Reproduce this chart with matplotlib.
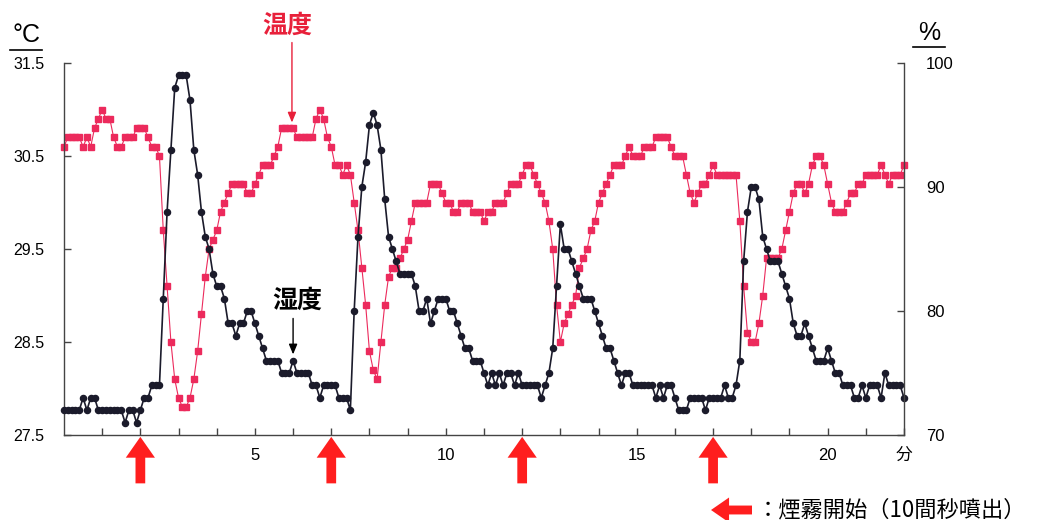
import numpy as np
import matplotlib.pyplot as plt
from matplotlib.lines import Line2D

plt.rcParams['font.family'] = ['Liberation Sans', 'Noto Sans CJK JP', 'DejaVu Sans']

# logger readings every 6 s (0.1 min) from 0 to 22 min
minutes = np.round(np.arange(221) * 0.1, 1)

temperature = [  # deg C
    30.6, 30.7, 30.7, 30.7, 30.7, 30.6, 30.7, 30.6, 30.8, 30.9,
    31.0, 30.9, 30.9, 30.7, 30.6, 30.6, 30.7, 30.7, 30.7, 30.8,
    30.8, 30.8, 30.7, 30.6, 30.6, 30.5, 29.7, 29.1, 28.5, 28.1,
    27.9, 27.8, 27.8, 27.9, 28.1, 28.4, 28.8, 29.2, 29.5, 29.6,
    29.7, 29.9, 30.0, 30.1, 30.2, 30.2, 30.2, 30.2, 30.1, 30.1,
    30.2, 30.3, 30.4, 30.4, 30.4, 30.5, 30.6, 30.8, 30.8, 30.8,
    30.8, 30.7, 30.7, 30.7, 30.7, 30.7, 30.9, 31.0, 30.9, 30.7,
    30.6, 30.4, 30.4, 30.3, 30.4, 30.3, 30.0, 29.7, 29.3, 28.9,
    28.4, 28.2, 28.1, 28.5, 28.9, 29.2, 29.3, 29.3, 29.4, 29.5,
    29.6, 29.8, 30.0, 30.0, 30.0, 30.0, 30.2, 30.2, 30.2, 30.1,
    30.0, 30.0, 29.9, 29.9, 30.0, 30.0, 30.0, 29.9, 29.9, 29.9,
    29.8, 29.9, 29.9, 30.0, 30.0, 30.0, 30.1, 30.2, 30.2, 30.2,
    30.3, 30.4, 30.4, 30.3, 30.2, 30.1, 30.0, 29.8, 29.5, 28.9,
    28.5, 28.7, 28.8, 28.9, 29.0, 29.3, 29.4, 29.5, 29.7, 29.8,
    30.0, 30.1, 30.2, 30.3, 30.4, 30.4, 30.4, 30.5, 30.6, 30.5,
    30.5, 30.5, 30.6, 30.6, 30.6, 30.7, 30.7, 30.7, 30.7, 30.6,
    30.5, 30.5, 30.5, 30.3, 30.1, 30.0, 30.1, 30.2, 30.2, 30.3,
    30.4, 30.3, 30.3, 30.3, 30.3, 30.3, 30.3, 29.8, 29.1, 28.6,
    28.5, 28.5, 28.7, 29.0, 29.4, 29.4, 29.4, 29.4, 29.5, 29.7,
    29.9, 30.1, 30.2, 30.2, 30.1, 30.2, 30.4, 30.5, 30.5, 30.4,
    30.2, 30.0, 29.9, 29.9, 29.9, 30.0, 30.1, 30.1, 30.2, 30.2,
    30.3, 30.3, 30.3, 30.3, 30.4, 30.3, 30.2, 30.3, 30.3, 30.3,
    30.4,
]

humidity = [  # %
    72, 72, 72, 72, 72, 73, 72, 73, 73, 72,
    72, 72, 72, 72, 72, 72, 71, 72, 72, 71,
    72, 73, 73, 74, 74, 74, 81, 88, 93, 98,
    99, 99, 99, 97, 93, 91, 88, 86, 85, 83,
    82, 82, 81, 79, 79, 78, 79, 79, 80, 80,
    79, 78, 77, 76, 76, 76, 76, 75, 75, 75,
    76, 75, 75, 75, 75, 74, 74, 73, 74, 74,
    74, 74, 73, 73, 73, 72, 80, 86, 90, 92,
    95, 96, 95, 93, 89, 86, 85, 84, 83, 83,
    83, 83, 82, 80, 80, 81, 79, 80, 81, 81,
    81, 80, 80, 79, 78, 77, 77, 76, 76, 76,
    75, 74, 75, 74, 75, 74, 75, 75, 74, 75,
    74, 74, 74, 74, 74, 73, 74, 75, 77, 82,
    87, 85, 85, 84, 83, 82, 81, 81, 81, 80,
    79, 78, 77, 77, 76, 75, 74, 75, 75, 74,
    74, 74, 74, 74, 74, 73, 74, 73, 74, 74,
    73, 72, 72, 72, 73, 73, 73, 73, 72, 73,
    73, 73, 73, 74, 73, 73, 74, 76, 84, 88,
    90, 90, 89, 86, 85, 84, 84, 84, 83, 82,
    81, 79, 78, 78, 79, 78, 77, 76, 76, 76,
    77, 76, 75, 75, 74, 74, 74, 73, 73, 74,
    73, 74, 74, 74, 73, 75, 74, 74, 74, 74,
    73,
]

smoke_start = [2, 7, 12, 17]  # minutes

temp_ticks = [27.5, 28.5, 29.5, 30.5, 31.5]
hum_ticks = [70, 80, 90, 100]
x_ticks = [5, 10, 15, 20, 22]
x_labels = ['5', '10', '15', '20', '分']

pink = '#ec2a5c'
dark = '#1b1b2b'
red = '#ff1e1e'
axis_col = '#444444'

W, H = 1046, 520
fig = plt.figure(figsize=(W / 100, H / 100), dpi=100)
ax = fig.add_axes([64 / W, 1 - 435 / H, 840 / W, 372 / H])
ax2 = ax.twinx()

ax.plot(minutes, temperature, color=pink, lw=0.8, marker='s', ms=3.8,
        mfc=pink, mec=pink, clip_on=False)
ax2.plot(minutes, humidity, color=dark, lw=1.2, marker='o', ms=4.4,
         mfc=dark, mec=dark, clip_on=False)

ax.set_xlim(0, 22)
ax.set_ylim(27.5, 31.5)
ax2.set_ylim(70, 100)

ax.set_xticks(x_ticks)
ax.set_xticklabels(x_labels)
ax.set_xticks(range(1, 22), minor=True)
ax.set_yticks(temp_ticks)
ax.set_yticklabels([f'{v:.1f}' for v in temp_ticks])
ax2.set_yticks(hum_ticks)

ax.tick_params(axis='x', which='both', direction='in', length=5, width=1,
               color=axis_col, labelsize=12, pad=9)
ax.tick_params(axis='y', direction='in', length=5, width=1, color=axis_col,
               labelsize=11.5, pad=14)
ax2.tick_params(axis='y', direction='in', length=5, width=1, color=axis_col,
                labelsize=12, pad=16)

for a in (ax, ax2):
    a.spines['top'].set_visible(False)
    for s in ('left', 'right', 'bottom'):
        a.spines[s].set_color(axis_col)
        a.spines[s].set_linewidth(1)
ax.spines['right'].set_visible(False)
ax2.spines['left'].set_visible(False)
ax2.spines['bottom'].set_visible(False)

# unit captions with underline
fig.text(26 / W, 1 - 35 / H, '°C', fontsize=18, ha='center', va='center')
fig.add_artist(Line2D([10 / W, 42 / W], [1 - 50 / H] * 2, color='black', lw=1.2))
fig.text(929 / W, 1 - 33 / H, '%', fontsize=18, ha='center', va='center')
fig.add_artist(Line2D([913 / W, 945 / W], [1 - 47 / H] * 2, color='black', lw=1.2))

# series labels with pointers
ax.annotate('', xy=(5.97, 30.86), xytext=(5.97, 31.72),
            arrowprops=dict(arrowstyle='-|>,head_length=0.6,head_width=0.25',
                            color='#e8203a', lw=1, shrinkA=0, shrinkB=0),
            annotation_clip=False)
ax.text(5.85, 31.9, '温度', color='#e8203a', fontsize=18, fontweight='bold',
        ha='center', va='center', family=['Noto Sans CJK JP'], clip_on=False)

ax2.annotate('', xy=(6.0, 76.5), xytext=(6.0, 79.4),
             arrowprops=dict(arrowstyle='-|>,head_length=0.6,head_width=0.25',
                             color='black', lw=1, shrinkA=0, shrinkB=0))
ax2.text(6.1, 80.8, '湿度', color='black', fontsize=18, fontweight='bold',
         ha='center', va='center', family=['Noto Sans CJK JP'])

# smoke release markers under the time axis
block = 'simple,head_length=0.75,head_width=1.05,tail_width=0.35'
for t in smoke_start:
    ax.annotate('', xy=(t, -0.005), xycoords=('data', 'axes fraction'),
                xytext=(t, -0.13), textcoords=('data', 'axes fraction'),
                arrowprops=dict(arrowstyle=block, mutation_scale=20, fc=red,
                                ec=red, lw=0, shrinkA=0, shrinkB=0),
                annotation_clip=False)

# key for the red arrows
fig.add_artist(plt.Annotation(
    '', xy=(711 / W, 1 - 510 / H), xycoords='figure fraction',
    xytext=(752 / W, 1 - 510 / H), textcoords='figure fraction',
    arrowprops=dict(arrowstyle='simple,head_length=0.65,head_width=0.9,tail_width=0.32',
                    mutation_scale=20, fc=red, ec=red, lw=0, shrinkA=0, shrinkB=0)))
fig.text(757 / W, 1 - 510 / H, '：煙霧開始（10間秒噴出）', fontsize=16,
         ha='left', va='center', family=['Noto Sans CJK JP'])

fig.savefig('out.png', dpi=100, facecolor='white')
